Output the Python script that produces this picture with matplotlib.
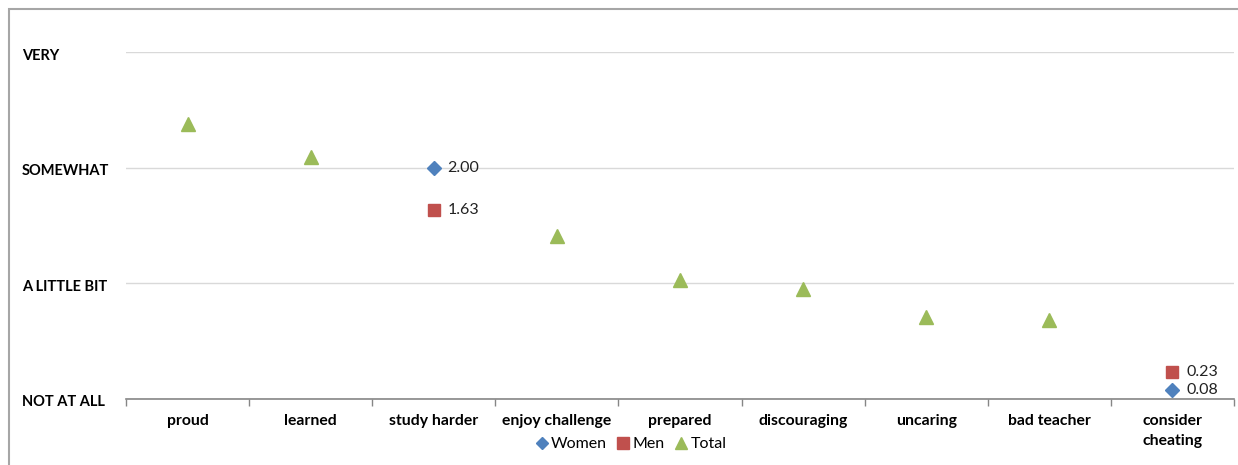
import matplotlib
matplotlib.use("Agg")
import matplotlib.pyplot as plt
import matplotlib.transforms as mtransforms
from matplotlib.patches import Rectangle
from matplotlib.lines import Line2D
import numpy as np

categories = ["proud", "learned", "study harder", "enjoy challenge", "prepared",
              "discouraging", "uncaring", "bad teacher", "consider\ncheating"]
level_labels = ["NOT AT ALL", "A LITTLE BIT", "SOMEWHAT", "VERY"]

women = [None, None, 2.00, None, None, None, None, None, 0.08]
men = [None, None, 1.63, None, None, None, None, None, 0.23]
total = [2.38, 2.09, None, 1.41, 1.03, 0.95, 0.71, 0.68, None]

c_women = "#4F81BD"
c_men = "#C0504D"
c_total = "#9BBB59"

plt.rcParams["font.family"] = ["Lato", "DejaVu Sans"]

fig = plt.figure(figsize=(12.38, 4.65), dpi=100)
ax = fig.add_axes([126 / 1238, 1 - 399 / 465, 1108 / 1238, 347 / 465])

# outer chart frame
fig.patches.append(Rectangle((9 / 1238, -0.05), 1.1, 1 - 9 / 465 + 0.05,
                             transform=fig.transFigure, fill=False,
                             edgecolor="#A6A6A6", linewidth=1.5))

x = np.arange(len(categories))


def pts(vals):
    xs = [i for i, v in zip(x, vals) if v is not None]
    ys = [v for v in vals if v is not None]
    return xs, ys


xw, yw = pts(women)
xm, ym = pts(men)
xt, yt = pts(total)
ax.plot(xw, yw, linestyle="none", marker="D", markersize=7, color=c_women, zorder=3)
ax.plot(xm, ym, linestyle="none", marker="s", markersize=8.5, color=c_men, zorder=3)
ax.plot(xt, yt, linestyle="none", marker="^", markersize=10, color=c_total, zorder=3)

for xs, ys in ((xw, yw), (xm, ym)):
    for xi, yi in zip(xs, ys):
        ax.annotate(f"{yi:.2f}", (xi, yi), xytext=(10, 0), textcoords="offset points",
                    ha="left", va="center", fontsize=11.5, color="#222222")

ax.set_xlim(-0.5, len(categories) - 0.5)
ax.set_ylim(0, 3)

ax.set_yticks([0, 1, 2, 3])
ax.set_yticklabels(level_labels, fontsize=10.5, fontweight="bold", ha="left")
ax.tick_params(axis="y", length=0, pad=104 * 0.72)
shift_down = mtransforms.ScaledTranslation(0, -2 / 100, fig.dpi_scale_trans)
for lbl in ax.get_yticklabels():
    lbl.set_transform(lbl.get_transform() + shift_down)
ax.grid(axis="y", color="#D9D9D9", linewidth=1)
ax.set_axisbelow(True)

ax.set_xticks(x)
ax.set_xticklabels(categories, fontsize=11.3, fontweight="bold", va="top", linespacing=1.55)
ax.tick_params(axis="x", which="major", length=0, pad=11)
ax.set_xticks(np.arange(-0.5, len(categories)), minor=True)
ax.tick_params(axis="x", which="minor", length=5, color="#868686", width=1)

for s in ("top", "right", "left"):
    ax.spines[s].set_visible(False)
ax.spines["bottom"].set_color("#868686")
ax.spines["bottom"].set_linewidth(1.2)

handles = [
    Line2D([], [], linestyle="none", marker="D", markersize=6, color=c_women, label="Women"),
    Line2D([], [], linestyle="none", marker="s", markersize=8, color=c_men, label="Men"),
    Line2D([], [], linestyle="none", marker="^", markersize=8, color=c_total, label="Total"),
]
fig.legend(handles=handles, loc="center", bbox_to_anchor=(630 / 1238, 1 - 444 / 465),
           ncol=3, frameon=False, fontsize=11.5, handletextpad=0.1, columnspacing=0.5,
           handlelength=1.0)

fig.savefig("out.png", dpi=100)
